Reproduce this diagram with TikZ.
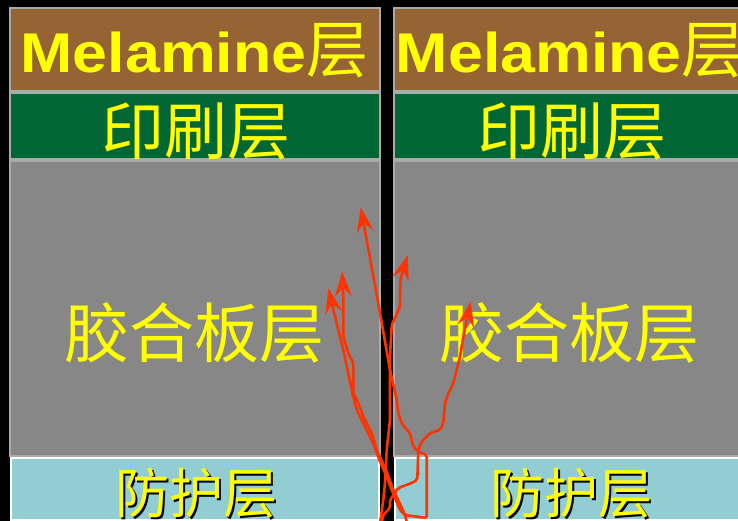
\documentclass[tikz,border=0pt]{standalone}
\usepackage{fontspec}
\usepackage{graphicx}
\setmainfont{Liberation Sans}
\newfontfamily\cjk{Noto Sans CJK SC}
\usetikzlibrary{arrows.meta}
\definecolor{melbrown}{RGB}{150, 100, 50}
\definecolor{printgreen}{RGB}{0, 102, 51}
\definecolor{plygray}{RGB}{135, 135, 135}
\definecolor{protblue}{RGB}{146, 205, 212}
\definecolor{edgegray}{RGB}{170, 170, 170}
\definecolor{arrowred}{RGB}{255, 51, 0}
\definecolor{txtyellow}{RGB}{255, 255, 0}
\tikzset{
  layerbox/.style={draw=edgegray, line width=2pt},
  protbox/.style={draw=white, line width=2pt, fill=protblue},
  layertext/.style={text=txtyellow, inner sep=0pt},
  shadowtext/.style={text=black, inner sep=0pt},
  punta/.tip={Stealth[length=25pt, width=17pt, inset=9pt]},
  freccia/.style={draw=arrowred, line width=2.6pt, line join=round, rounded corners=2pt, -punta}
}

\begin{document}
\begin{tikzpicture}[x=1pt, y=-1pt]
    \fill[black] (0,0) rectangle (738,521);
    \useasboundingbox (0,0) rectangle (738,521);
    \clip (0,0) rectangle (738,521);

    % Colonna sinistra
    \draw[layerbox, fill=melbrown] (10,8) rectangle (380,91);
    \draw[layerbox, fill=printgreen] (10,93) rectangle (380,159);
    \draw[layerbox, fill=plygray] (10,161) rectangle (380,456);
    \draw[protbox] (11,458) rectangle (379,520);

    \node[layertext, anchor=base] (melL) at (194.5,73)
      {\fontsize{56}{60}\selectfont\scalebox{1.12}[1]{\bfseries Melamine}{\cjk\fontsize{62}{64}\selectfont 层}};
    \node[layertext] (printL) at (196,131.5) {\cjk\fontsize{63}{66}\selectfont 印刷层};
    \node[layertext] (plyL) at (194,333) {\cjk\fontsize{65}{68}\selectfont 胶合板层};
    \node[shadowtext] (protLs) at (198,495) {\cjk\fontsize{54}{56}\selectfont 防护层};
    \node[layertext] (protL) at (196,493) {\cjk\fontsize{54}{56}\selectfont 防护层};

    % Colonna destra
    \draw[layerbox, fill=melbrown] (394,8) rectangle (764,91);
    \draw[layerbox, fill=printgreen] (394,93) rectangle (764,159);
    \draw[layerbox, fill=plygray] (394,161) rectangle (764,456);
    \draw[protbox] (395,458) rectangle (763,520);

    \node[layertext, anchor=base] (melR) at (569.8,73)
      {\fontsize{56}{60}\selectfont\scalebox{1.12}[1]{\bfseries Melamine}{\cjk\fontsize{62}{64}\selectfont 层}};
    \node[layertext] (printR) at (571.5,131.5) {\cjk\fontsize{63}{66}\selectfont 印刷层};
    \node[layertext] (plyR) at (569,333) {\cjk\fontsize{65}{68}\selectfont 胶合板层};
    \node[shadowtext] (protRs) at (573.5,495) {\cjk\fontsize{54}{56}\selectfont 防护层};
    \node[layertext] (protR) at (571.5,493) {\cjk\fontsize{54}{56}\selectfont 防护层};

    % Frecce
    \draw[freccia, punta-punta]
      (328.3,288.3) -- (331.7,303.3) -- (343.3,350) -- (353.3,396.7) -- (356.7,410)
      -- (365,426.7) -- (373.3,443.3) -- (380,461.7) -- (386.7,476.7) -- (391.7,490)
      -- (400,510) -- (405,515) -- (426.7,518) -- (426.7,455) -- (418.3,451.7)
      -- (413.3,446.7) -- (410,433.3) -- (401.7,423.3) -- (398.3,413.3) -- (396.7,400)
      -- (390,370) -- (380,313) -- (360.7,207.3);
    \draw[freccia] (407,523) -- (405,515) -- (398.3,500) -- (393.3,490) -- (386.7,471.7)
      -- (376.7,450) -- (371.7,433) -- (363.3,416.7) -- (358.3,403) -- (353.3,393.3)
      -- (353.3,363.3) -- (348.3,353.3) -- (343.3,336.7) -- (343.3,296.7) -- (342.3,271.7);
    \draw[freccia] (380,523) -- (383.3,500) -- (385,483) -- (386.7,450) -- (390,420)
      -- (390,356.7) -- (391.7,325) -- (400,306.7) -- (400.5,279) -- (407.7,255);
    \draw[freccia] (381.7,523) -- (383.3,515) -- (390,508) -- (390,500) -- (393.3,495)
      -- (398.3,488) -- (411.7,483) -- (417.3,480) -- (418.3,450) -- (421.7,441.7)
      -- (430,433) -- (440,430) -- (443.3,423.3) -- (445,403.3) -- (448.3,393.3)
      -- (453.3,383.3) -- (456.7,370) -- (460,356.7) -- (463.3,336.7) -- (468.3,313.3)
      -- (470.7,301.7);
\end{tikzpicture}
\end{document}
